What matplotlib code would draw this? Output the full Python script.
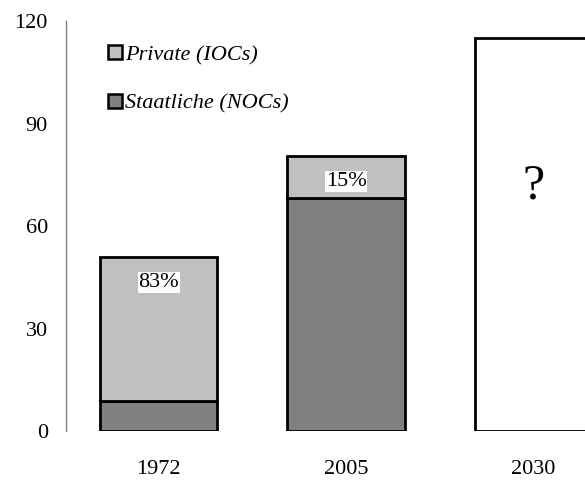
import matplotlib.pyplot as plt
import numpy as np

plt.rcParams['font.family'] = ['Liberation Serif', 'DejaVu Serif']

# data
years = ['1972', '2005', '2030']
staatliche = [8.7, 68.3]   # NOCs
private = [42.3, 12.2]     # IOCs
shares = ['83%', '15%']    # share of private
total_2030 = 115

light = '#c0c0c0'
dark = '#808080'

fig = plt.figure(figsize=(5.85, 4.8), dpi=100)
# axes deliberately runs past the right edge so the 2030 bar is clipped
ax = fig.add_axes([66 / 585, 49 / 480, 561 / 585, 410 / 480])

x = np.arange(len(years))
w = 0.625

ax.bar(x[:2], staatliche, width=w, color=dark, edgecolor='black', linewidth=2,
       label='Staatliche (NOCs)', zorder=3)
ax.bar(x[:2], private, width=w, bottom=staatliche, color=light, edgecolor='black',
       linewidth=2, label='Private (IOCs)', zorder=3)
ax.bar(x[2], total_2030, width=w, color='white', edgecolor='black', linewidth=2,
       zorder=3)

# percentage labels near the top of each stack
for i, s in enumerate(shares):
    top = staatliche[i] + private[i]
    ax.text(x[i], top - 7.5, s, ha='center', va='center', fontsize=16,
            bbox=dict(facecolor='white', edgecolor='none', pad=0.5), zorder=4)
ax.text(x[2], 71.5, '?', ha='center', va='center', fontsize=36, zorder=4)

ax.set_xlim(-0.495, 2.5)
ax.set_ylim(0, 120)
ax.set_yticks([0, 30, 60, 90, 120])
ax.set_xticks(x)
ax.set_xticklabels(years)
ax.tick_params(axis='both', length=0, labelsize=16)
ax.tick_params(axis='y', pad=13)
ax.tick_params(axis='x', pad=21)

for side in ['top', 'right', 'bottom']:
    ax.spines[side].set_visible(False)
ax.spines['left'].set_color('#808080')
ax.spines['left'].set_linewidth(1)

handles, labels = ax.get_legend_handles_labels()
leg = ax.legend(handles[::-1], labels[::-1], loc='upper left',
                bbox_to_anchor=(0.04, 0.99), frameon=False,
                prop={'style': 'italic', 'size': 16}, labelspacing=1.3,
                handlelength=0.6, handleheight=0.6, handletextpad=0.15)
for h in leg.legend_handles:
    h.set_linewidth(1.8)

fig.savefig('out.png', dpi=100)
